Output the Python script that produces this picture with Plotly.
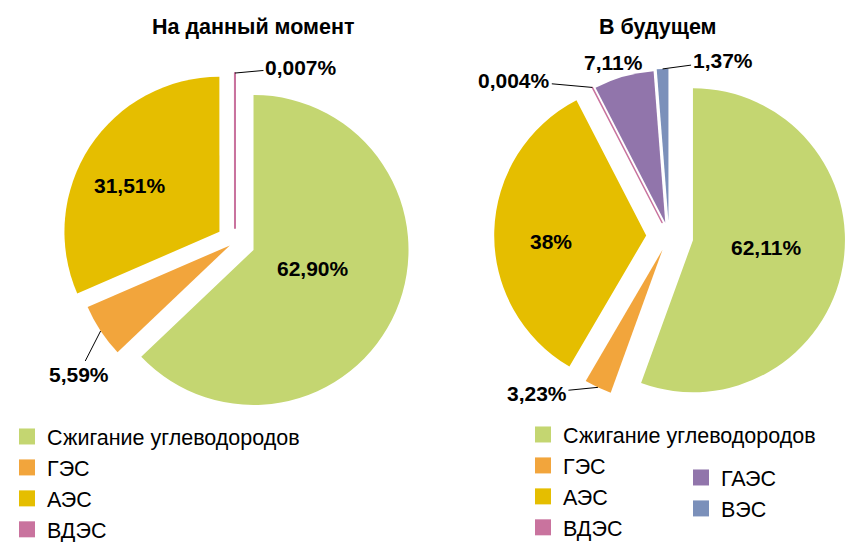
import math
import plotly.graph_objects as go

W, H = 846, 542

# ---------------- data ----------------
cats_now = ["Сжигание углеводородов", "ГЭС", "АЭС", "ВДЭС"]
vals_now = [62.90, 5.59, 31.51, 0.007]
text_now = ["62,90%", "5,59%", "31,51%", "0,007%"]

cats_fut = ["Сжигание углеводородов", "ГЭС", "АЭС", "ВДЭС", "ГАЭС", "ВЭС"]
vals_fut = [62.11, 3.23, 38.0, 0.004, 7.11, 1.37]
text_fut = ["62,11%", "3,23%", "38%", "0,004%", "7,11%", "1,37%"]

titles = ["На данный момент", "В будущем"]

colors = {
    "Сжигание углеводородов": "#C4D671",
    "ГЭС": "#F2A53C",
    "АЭС": "#E5BE00",
    "ВДЭС": "#C9739E",
    "ГАЭС": "#9175AB",
    "ВЭС": "#7B90BA",
}

# ---------------- styling / geometry ----------------
FONT = "Liberation Sans, Arial, sans-serif"
pull_now = [0.13, 0.04, 0.12, 0.09]
pull_fut = [0.16, 0.10, 0.15, 0.10, 0.09, 0.10]
# tiny slices get an outline so they remain visible as a thin line
line_now = [0, 0, 0, 2]
line_fut = [0, 0, 0, 1.5, 0, 0]

# pie centers / radii in pixels
L_C, L_R = (235.0, 242.0), 155.0
R_C, R_R = (669.0, 236.0), 152.0


def domain_for(center, R, pulls):
    half = R * (1 + max(pulls))
    cx, cy = center
    return dict(x=[(cx - half) / W, min(1.0, (cx + half) / W)],
                y=[1 - (cy + half) / H, 1 - (cy - half) / H])


def slice_point(center, R, vals, pulls, i, rfrac, afrac=0.5):
    """pixel point inside slice i (clockwise from 12 o'clock)."""
    tot = sum(vals)
    a0 = sum(vals[:i]) / tot * 2 * math.pi
    a1 = sum(vals[:i + 1]) / tot * 2 * math.pi
    mid = (a0 + a1) / 2
    cx, cy = center
    ax = cx + pulls[i] * R * math.sin(mid)
    ay = cy - pulls[i] * R * math.cos(mid)
    ang = a0 + afrac * (a1 - a0)
    return ax + rfrac * R * math.sin(ang), ay - rfrac * R * math.cos(ang)


def paper(pt):
    return pt[0] / W, 1 - pt[1] / H


fig = go.Figure()

for cats, vals, pulls, lw, c, R in [
    (cats_now, vals_now, pull_now, line_now, L_C, L_R),
    (cats_fut, vals_fut, pull_fut, line_fut, R_C, R_R),
]:
    cols = [colors[n] for n in cats]
    fig.add_trace(go.Pie(
        labels=cats, values=vals, sort=False, direction="clockwise",
        rotation=0, pull=pulls, textinfo="none", showlegend=False,
        hoverinfo="label+percent",
        marker=dict(colors=cols, line=dict(width=lw, color=cols)),
        domain=domain_for(c, R, pulls),
    ))

# legend proxies
legend_map = [
    (cats_now, "legend"),
    (cats_fut[:4], "legend2"),
    (cats_fut[4:], "legend3"),
]
for names, lg in legend_map:
    for n in names:
        fig.add_trace(go.Scatter(
            x=[None], y=[None], mode="markers", name=n, legend=lg,
            marker=dict(symbol="square", size=16, color=colors[n]),
            hoverinfo="skip",
        ))

annotations = []
lblfont = dict(family=FONT, size=21, color="black")

# titles
for t, cx in zip(titles, [253, 658]):
    annotations.append(dict(text="<b>%s</b>" % t, x=cx / W, y=1 - 27 / H,
                            xref="paper", yref="paper", showarrow=False,
                            font=dict(family=FONT, size=21.5, color="black"),
                            xanchor="center", yanchor="middle"))

# inside labels: (pie, index, rfrac, afrac)
inside = [
    (L_C, L_R, vals_now, pull_now, text_now, 0, 0.40, 0.473),
    (L_C, L_R, vals_now, pull_now, text_now, 2, 0.65, 0.45),
    (R_C, R_R, vals_fut, pull_fut, text_fut, 0, 0.48, 0.48),
    (R_C, R_R, vals_fut, pull_fut, text_fut, 2, 0.63, 0.46),
]
for c, R, v, p, tx, i, rf, af in inside:
    x, y = paper(slice_point(c, R, v, p, i, rf, af))
    annotations.append(dict(text="<b>%s</b>" % tx[i], x=x, y=y, xref="paper",
                            yref="paper", showarrow=False, font=lblfont,
                            xanchor="center", yanchor="middle"))

# outside labels with leader lines: (pie, index, ax, ay)
outside = [
    (L_C, L_R, vals_now, pull_now, text_now, 3, 66, -6),
    (L_C, L_R, vals_now, pull_now, text_now, 1, -22, 43),
    (R_C, R_R, vals_fut, pull_fut, text_fut, 1, -61, 6),
    (R_C, R_R, vals_fut, pull_fut, text_fut, 3, -78, -7),
    (R_C, R_R, vals_fut, pull_fut, text_fut, 5, 60, -8),
]
for c, R, v, p, tx, i, ax, ay in outside:
    x, y = paper(slice_point(c, R, v, p, i, 1.0, 0.5))
    annotations.append(dict(text="<b>%s</b>" % tx[i], x=x, y=y, xref="paper",
                            yref="paper", showarrow=True, arrowhead=0,
                            arrowwidth=1, arrowcolor="black", ax=ax, ay=ay,
                            standoff=0, font=lblfont))

# 7,11% label above purple slice, no line
x, y = paper(slice_point(R_C, R_R, vals_fut, pull_fut, 4, 1.0, 0.5))
annotations.append(dict(text="<b>%s</b>" % text_fut[4], x=x, y=y, xref="paper",
                        yref="paper", showarrow=False, xshift=-10, yshift=14,
                        font=lblfont, xanchor="center", yanchor="middle"))

legfont = dict(family=FONT, size=21.5, color="black")
fig.update_layout(
    width=W, height=H,
    margin=dict(l=0, r=0, t=0, b=0, autoexpand=False),
    paper_bgcolor="white", plot_bgcolor="white",
    xaxis=dict(visible=False), yaxis=dict(visible=False),
    annotations=annotations,
    legend=dict(x=7 / W, y=1 - 416 / H, xanchor="left", yanchor="top",
                font=legfont, bgcolor="rgba(0,0,0,0)"),
    legend2=dict(x=523 / W, y=1 - 414 / H, xanchor="left", yanchor="top",
                 font=legfont, bgcolor="rgba(0,0,0,0)"),
    legend3=dict(x=681 / W, y=1 - 457 / H, xanchor="left", yanchor="top",
                 font=legfont, bgcolor="rgba(0,0,0,0)"),
)

fig.write_html(
    "out.html",
    config={"displayModeBar": False},
    post_script="document.body.style.margin='0';"
                "document.body.style.overflow='hidden';",
)
